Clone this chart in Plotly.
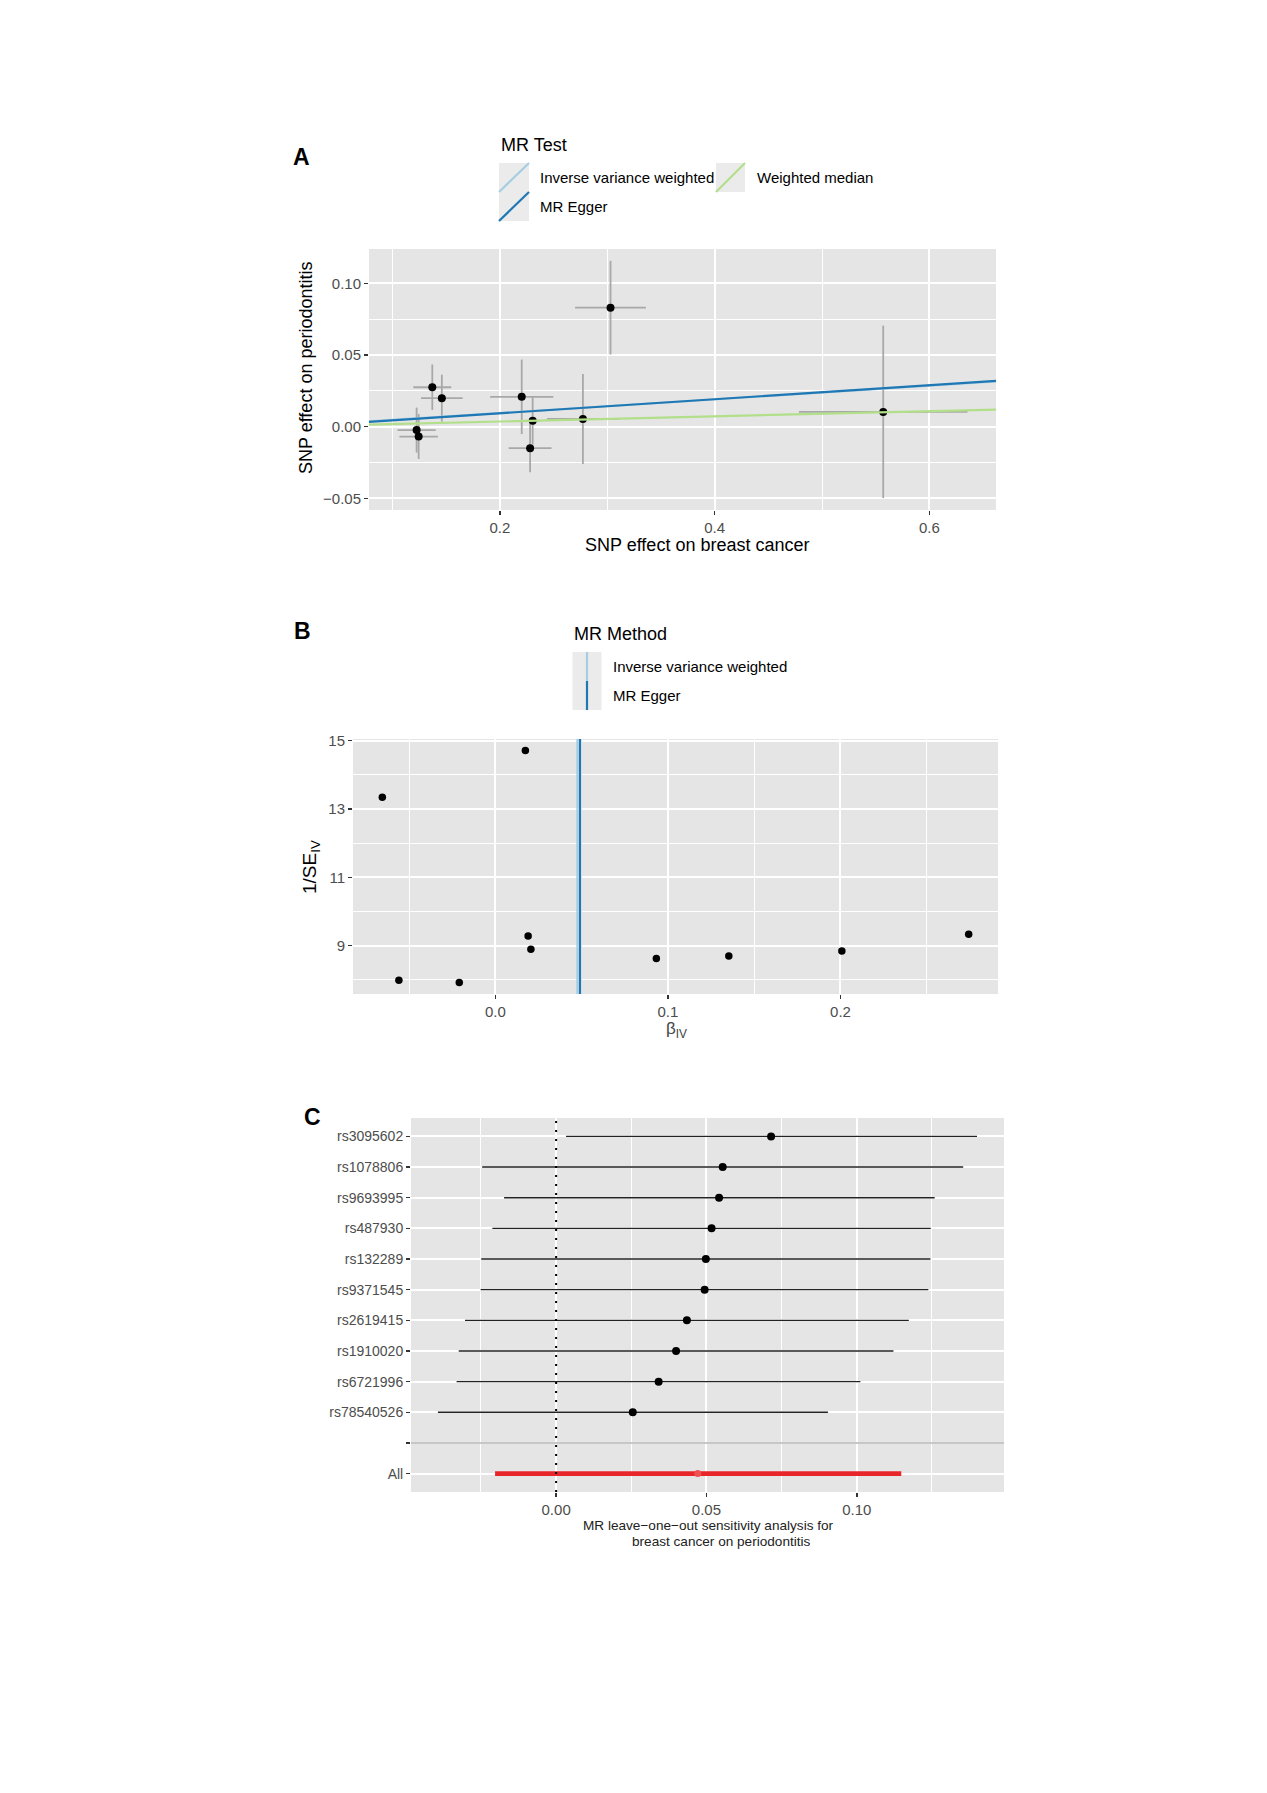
import plotly.graph_objects as go

W, H = 1267, 1793
FONT = "Liberation Sans, Arial, Helvetica, sans-serif"

# ---------------- Panel A: scatter plot ----------------
scatter_snp_bx = [0.1224, 0.1243, 0.1370, 0.1459, 0.2203, 0.2281, 0.2305, 0.2773, 0.3030, 0.5570]
scatter_snp_by = [-0.0024, -0.0069, 0.0275, 0.0199, 0.0208, -0.0150, 0.0041, 0.0054, 0.0830, 0.0103]
scatter_se_bx = [0.0178, 0.0179, 0.0177, 0.0194, 0.0294, 0.0200, 0.0060, 0.0335, 0.0330, 0.0785]
scatter_se_by = [0.0157, 0.0157, 0.0159, 0.0164, 0.0260, 0.0168, 0.0165, 0.0314, 0.0327, 0.0602]
scatter_methods = ["Inverse variance weighted", "MR Egger", "Weighted median"]
scatter_intercepts = [0.0, -0.0005, 0.0]
scatter_slopes = [0.0476, 0.0491, 0.0180]
method_colors = ["#a6cee3", "#1f78b4", "#b2df8a"]

# ---------------- Panel B: funnel plot ----------------
funnel_beta = [-0.0655, -0.0559, -0.0209, 0.0174, 0.0190, 0.0206, 0.0933, 0.1353, 0.2008, 0.2743]
funnel_inv_se = [13.34, 7.98, 7.92, 14.71, 9.28, 8.89, 8.62, 8.69, 8.84, 9.33]
funnel_methods = ["Inverse variance weighted", "MR Egger"]
funnel_estimates = [0.0476, 0.0491]

# ---------------- Panel C: leave-one-out ----------------
loo_labels = ["rs3095602", "rs1078806", "rs9693995", "rs487930", "rs132289",
              "rs9371545", "rs2619415", "rs1910020", "rs6721996", "rs78540526"]
loo_b = [0.0715, 0.0554, 0.0542, 0.0517, 0.0498, 0.0494, 0.0435, 0.0399, 0.0341, 0.0255]
loo_lo = [0.0033, -0.0246, -0.0173, -0.0212, -0.0249, -0.0251, -0.0303, -0.0324, -0.0331, -0.0393]
loo_hi = [0.1400, 0.1354, 0.1259, 0.1246, 0.1245, 0.1238, 0.1173, 0.1122, 0.1012, 0.0904]
all_label = "All"
all_b = 0.0471
all_lo = -0.0203
all_hi = 0.1148
separator_label = " "
null_effect = 0.0

PANEL_BG = "#E5E5E5"
ERR_GREY = "#A8A8A8"


def fx(p):
    return p / W


def fy(p):
    return 1 - p / H


def expand(lo, hi, f=0.05):
    s = hi - lo
    return [lo - f * s, hi + f * s]


def axis(**kw):
    d = dict(showline=False, ticks="outside", ticklen=4, tickwidth=1.5, tickcolor="#333333",
             tickfont=dict(family=FONT, size=15, color="#4D4D4D"),
             showgrid=True, gridcolor="white", gridwidth=2, zeroline=False,
             automargin=False, fixedrange=True)
    d.update(kw)
    return d


fig = go.Figure()

# ---- Panel A ----
a_xr = expand(min(b - s for b, s in zip(scatter_snp_bx, scatter_se_bx)),
              max(b + s for b, s in zip(scatter_snp_bx, scatter_se_bx)))
a_yr = expand(min(b - s for b, s in zip(scatter_snp_by, scatter_se_by)),
              max(b + s for b, s in zip(scatter_snp_by, scatter_se_by)))

fig.add_trace(go.Scatter(
    x=scatter_snp_bx, y=scatter_snp_by, mode="markers",
    marker=dict(color="black", size=8),
    error_x=dict(type="data", array=scatter_se_bx, color=ERR_GREY, thickness=1.8, width=0),
    error_y=dict(type="data", array=scatter_se_by, color=ERR_GREY, thickness=1.8, width=0),
    xaxis="x", yaxis="y", showlegend=False, hoverinfo="skip"))
for name, a, b, c in zip(scatter_methods, scatter_intercepts, scatter_slopes, method_colors):
    fig.add_trace(go.Scatter(x=a_xr, y=[a + b * v for v in a_xr], mode="lines",
                             line=dict(color=c, width=2.2), name=name,
                             xaxis="x", yaxis="y", showlegend=False, hoverinfo="skip"))

# ---- Panel B ----
b_xr = expand(min(funnel_beta), max(funnel_beta))
b_yr = expand(min(funnel_inv_se), max(funnel_inv_se))
fig.add_trace(go.Scatter(x=funnel_beta, y=funnel_inv_se, mode="markers",
                         marker=dict(color="black", size=7.5),
                         xaxis="x2", yaxis="y2", showlegend=False, hoverinfo="skip"))

# ---- Panel C ----
c_xr = expand(min(loo_lo + [all_lo, null_effect]), max(loo_hi + [all_hi, null_effect]))
c_order = [all_label, separator_label] + list(reversed(loo_labels))
fig.add_trace(go.Scatter(x=c_xr, y=[separator_label, separator_label], mode="lines",
                         line=dict(color="#B4B4B4", width=1.6),
                         xaxis="x3", yaxis="y3", showlegend=False, hoverinfo="skip"))
fig.add_trace(go.Scatter(
    x=loo_b, y=loo_labels, mode="markers", marker=dict(color="black", size=8),
    error_x=dict(type="data", symmetric=False,
                 array=[h - b for h, b in zip(loo_hi, loo_b)],
                 arrayminus=[b - l for b, l in zip(loo_b, loo_lo)],
                 color="#222222", thickness=1.4, width=0),
    xaxis="x3", yaxis="y3", showlegend=False, hoverinfo="skip"))
fig.add_trace(go.Scatter(
    x=[all_b], y=[all_label], mode="markers", marker=dict(color="#F0504F", size=7),
    error_x=dict(type="data", symmetric=False, array=[all_hi - all_b], arrayminus=[all_b - all_lo],
                 color="#E8262A", thickness=4.6, width=0),
    xaxis="x3", yaxis="y3", showlegend=False, hoverinfo="skip"))

shapes = []
annotations = []

# funnel method lines
for est, c in zip(funnel_estimates, method_colors):
    shapes.append(dict(type="line", xref="x2", yref="y2 domain", x0=est, x1=est, y0=0, y1=1,
                       line=dict(color=c, width=2.3), layer="above"))
# null line in panel C
shapes.append(dict(type="line", xref="x3", yref="y3 domain", x0=null_effect, x1=null_effect, y0=0, y1=1,
                   line=dict(color="black", width=2, dash="2px,7px"), layer="above"))


def key_box(x0, y0, x1, y1):
    shapes.append(dict(type="rect", xref="paper", yref="paper", x0=fx(x0), x1=fx(x1),
                       y0=fy(y1), y1=fy(y0), fillcolor="#EBEBEB", line=dict(width=0), layer="below"))


def text(t, x, y, size=15, color="black", anchor="left", bold=False, angle=0):
    if bold:
        t = "<b>" + t + "</b>"
    annotations.append(dict(text=t, x=fx(x), y=fy(y), xref="paper", yref="paper",
                            xanchor=anchor, yanchor="middle", showarrow=False, textangle=angle,
                            font=dict(family=FONT, size=size, color=color)))


# ---- Legend A ----
text("MR Test", 499, 145.5, size=18)
legend_a_slots = [(499, 163, 529, 192, 537.5), (499, 192, 529, 221, 537.5), (716, 163, 745, 192, 754.5)]
for (x0, y0, x1, y1, tx), name, c in zip(legend_a_slots, scatter_methods, method_colors):
    key_box(x0, y0, x1, y1)
    shapes.append(dict(type="line", xref="paper", yref="paper", x0=fx(x0), y0=fy(y1),
                       x1=fx(x1), y1=fy(y0), line=dict(color=c, width=2.2)))
    text(name, tx, (y0 + y1) / 2, size=15)

# ---- Legend B ----
text("MR Method", 572, 634.5, size=18)
legend_b_slots = [(572.5, 652, 601.5, 681, 610.5), (572.5, 681, 601.5, 710, 610.5)]
for (x0, y0, x1, y1, tx), name, c in zip(legend_b_slots, funnel_methods, method_colors):
    key_box(x0, y0, x1, y1)
    xm = (x0 + x1) / 2
    shapes.append(dict(type="line", xref="paper", yref="paper", x0=fx(xm), y0=fy(y1),
                       x1=fx(xm), y1=fy(y0), line=dict(color=c, width=2.2)))
    text(name, tx, (y0 + y1) / 2, size=15)

# ---- panel letters ----
text("A", 291, 157, size=23, bold=True)
text("B", 292, 631, size=23, bold=True)
text("C", 302, 1117, size=23, bold=True)

# ---- axis titles ----
text("SNP effect on breast cancer", 697, 545, size=18, anchor="center")
text("SNP effect on periodontitis", 306, 368, size=18, anchor="center", angle=-90)
text("1/SE<sub>IV</sub>", 311, 867, size=19, anchor="center", angle=-90)
text("β<sub>IV</sub>", 676, 1030, size=17, anchor="center", color="#444444")
text("MR leave\u2212one\u2212out sensitivity analysis for", 708, 1525, size=13.6, anchor="center", color="#222222")
text("breast cancer on periodontitis", 721, 1541, size=13.6, anchor="center", color="#222222")

# ---- domains ----
A = dict(x=(369, 996), y=(249, 510))
B = dict(x=(353, 998), y=(739, 994))
C = dict(x=(411, 1004), y=(1118, 1492))


def dom_x(p):
    return [fx(p["x"][0]), fx(p["x"][1])]


def dom_y(p):
    return [fy(p["y"][1]), fy(p["y"][0])]


fig.update_layout(
    width=W, height=H, margin=dict(l=0, r=0, t=0, b=0),
    paper_bgcolor="white", plot_bgcolor=PANEL_BG, showlegend=False,
    font=dict(family=FONT),
    xaxis=axis(domain=dom_x(A), anchor="y", range=a_xr, tick0=0, dtick=0.2, tickformat=".1f",
               minor=dict(tick0=0, dtick=0.1, showgrid=True, gridcolor="white", gridwidth=1)),
    yaxis=axis(domain=dom_y(A), anchor="x", range=a_yr, tick0=0, dtick=0.05, tickformat=".2f",
               minor=dict(tick0=0, dtick=0.025, showgrid=True, gridcolor="white", gridwidth=1)),
    xaxis2=axis(domain=dom_x(B), anchor="y2", range=b_xr, tick0=0, dtick=0.1, tickformat=".1f",
                minor=dict(tick0=0, dtick=0.05, showgrid=True, gridcolor="white", gridwidth=1)),
    yaxis2=axis(domain=dom_y(B), anchor="x2", range=b_yr, tick0=1, dtick=2,
                minor=dict(tick0=0, dtick=1, showgrid=True, gridcolor="white", gridwidth=1)),
    xaxis3=axis(domain=dom_x(C), anchor="y3", range=c_xr, tick0=0, dtick=0.05, tickformat=".2f",
                minor=dict(tick0=0, dtick=0.025, showgrid=True, gridcolor="white", gridwidth=1)),
    yaxis3=axis(domain=dom_y(C), anchor="x3", type="category", categoryorder="array",
                categoryarray=c_order, range=[-0.6, len(c_order) - 0.4],
                tickfont=dict(family=FONT, size=14, color="#4D4D4D")),
    shapes=shapes, annotations=annotations,
)

# remove the default 8px page margin so the figure sits at the window's top-left corner
fig.write_html("out.html", config={"displayModeBar": False, "staticPlot": True},
               post_script="document.body.style.margin='0';")
